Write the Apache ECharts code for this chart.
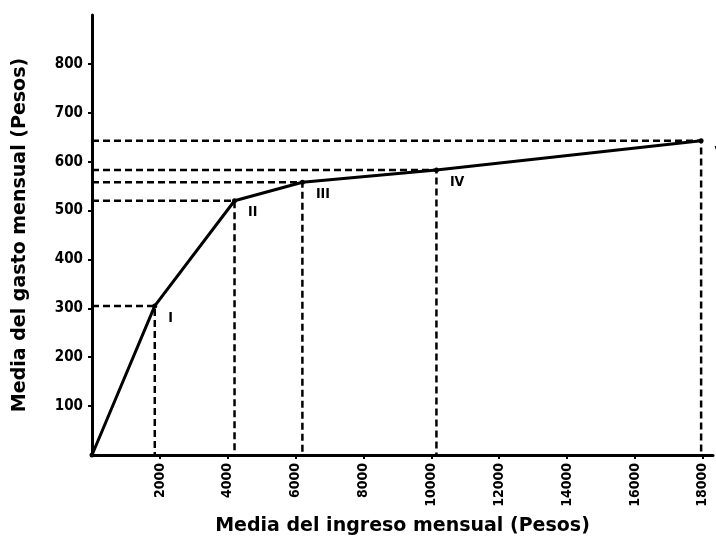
<!DOCTYPE html>
<html>
<head>
<meta charset="utf-8">
<script src="https://cdn.jsdelivr.net/npm/echarts@6/dist/echarts.min.js"></script>
<style>
  html, body { margin: 0; padding: 0; background: #fff; }
  #chart { width: 716px; height: 548px; }
</style>
</head>
<body>
<div id="chart"></div>
<script>
// puntos de la curva (ingreso, gasto)
const ingreso = [0, 1850, 4200, 6200, 10150, 17950]
const gasto = [0, 305, 520, 558, 583, 643]
const etiquetas = ['', 'I', 'II', 'III', 'IV', 'V']

const xTicks = [2000, 4000, 6000, 8000, 10000, 12000, 14000, 16000, 18000]
const yTicks = [100, 200, 300, 400, 500, 600, 700, 800]

const font = '"DejaVu Sans", sans-serif'
const fontNum = '"DejaVu Sans Condensed", "DejaVu Sans", sans-serif'

const chart = echarts.init(document.getElementById('chart'))

// lineas punteadas de cada punto hacia los ejes
const guias = ingreso.slice(1).map((x, i) => ({
  type: 'line',
  symbol: 'none',
  silent: true,
  z: 1,
  lineStyle: { color: '#000', width: 2.5, type: [7, 4] },
  data: [[0, gasto[i + 1]], [x, gasto[i + 1]], [x, 0]]
}))

chart.setOption({
  animation: false,
  grid: {
    left: 92,
    right: 3,
    top: 15,
    bottom: 93
  },
  xAxis: {
    type: 'value',
    min: 0,
    max: 18300,
    name: 'Media del ingreso mensual (Pesos)',
    nameLocation: 'middle',
    nameGap: 62,
    nameTextStyle: { fontFamily: font, fontWeight: 'bold', fontSize: 19, color: '#000' },
    splitLine: { show: false },
    axisLine: { onZero: false, lineStyle: { color: '#000', width: 3 } },
    axisTick: { customValues: xTicks, length: 4, lineStyle: { color: '#000', width: 2 } },
    axisLabel: {
      customValues: xTicks,
      rotate: 90,
      margin: 8,
      fontFamily: fontNum,
      fontWeight: 'bold',
      fontSize: 14,
      color: '#000',
      formatter: v => String(v)
    }
  },
  yAxis: {
    type: 'value',
    min: 0,
    max: 900,
    name: 'Media del gasto mensual (Pesos)',
    nameLocation: 'middle',
    nameGap: 62,
    nameTextStyle: { fontFamily: font, fontWeight: 'bold', fontSize: 19, color: '#000' },
    splitLine: { show: false },
    axisLine: { show: true, onZero: false, lineStyle: { color: '#000', width: 3 } },
    axisTick: { show: true, customValues: yTicks, length: 4, lineStyle: { color: '#000', width: 2 } },
    axisLabel: {
      customValues: yTicks,
      margin: 9,
      fontFamily: fontNum,
      fontWeight: 'bold',
      fontSize: 15,
      color: '#000'
    }
  },
  series: [
    ...guias,
    {
      type: 'line',
      z: 3,
      symbol: 'circle',
      symbolSize: 5,
      itemStyle: { color: '#000' },
      lineStyle: { color: '#000', width: 3 },
      label: {
        show: true,
        position: 'right',
        offset: [6, 12],
        fontFamily: fontNum,
        fontWeight: 'bold',
        fontSize: 14,
        color: '#000',
        formatter: p => etiquetas[p.dataIndex]
      },
      data: ingreso.map((x, i) => [x, gasto[i]])
    }
  ]
})
</script>
</body>
</html>
